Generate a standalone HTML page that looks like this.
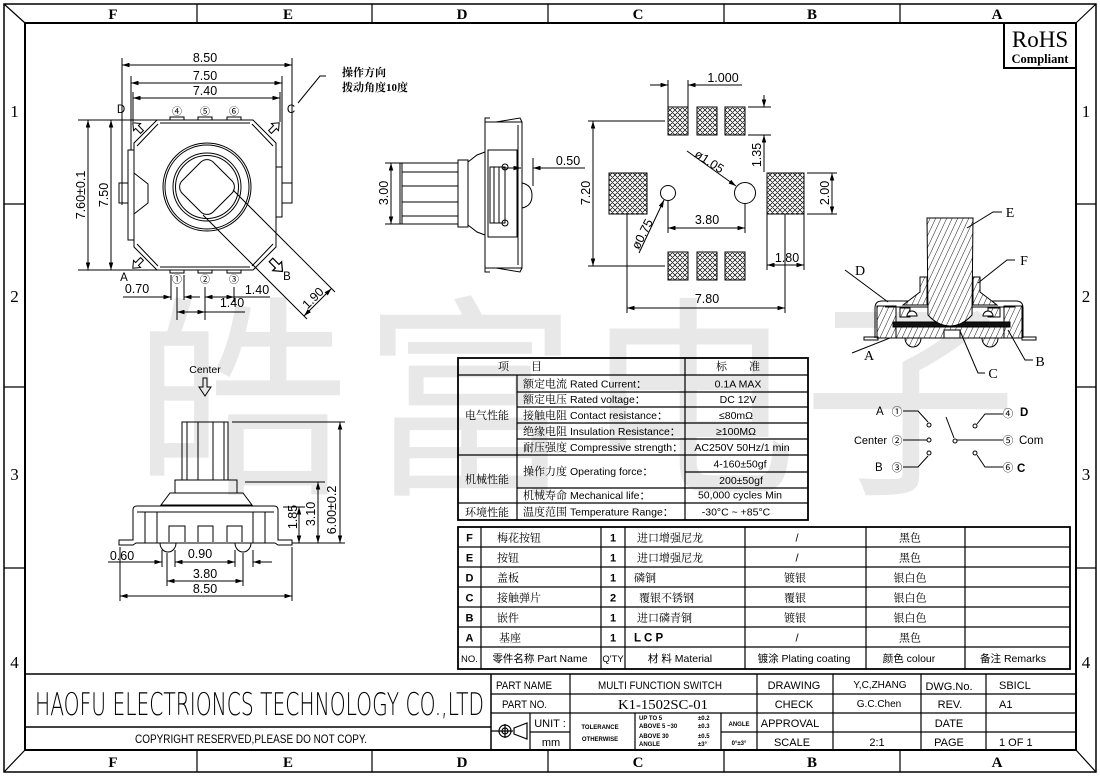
<!DOCTYPE html>
<html><head><meta charset="utf-8">
<style>
html,body{margin:0;padding:0;background:#fff;width:1100px;height:777px;overflow:hidden}
svg{display:block}
.d{marker-start:url(#a);marker-end:url(#a)}
.e{marker-end:url(#a)}
.sf{font-family:"Liberation Serif","Noto Serif CJK SC","Noto Sans CJK SC",serif}
.cn{font-family:"Liberation Serif","Noto Serif CJK SC","Noto Sans CJK SC",serif}
</style></head><body>
<svg xmlns="http://www.w3.org/2000/svg" width="1100" height="777" viewBox="0 0 1100 777" font-family="'Liberation Sans','Noto Sans CJK SC',sans-serif">
<defs>
<marker id="a" viewBox="0 0 10 6" refX="10" refY="3" markerWidth="8" markerHeight="4.5" markerUnits="userSpaceOnUse" orient="auto-start-reverse"><path d="M0,0L10,3L0,6z" fill="#000"/></marker>
<pattern id="xh" width="5" height="5" patternUnits="userSpaceOnUse"><path d="M-1,6L6,-1M-1,1L1,-1M4,6L6,4M-1,-1L6,6M-1,4L1,6M4,-1L6,1" stroke="#000" stroke-width="0.7"/></pattern>
<pattern id="hh" width="5" height="5" patternUnits="userSpaceOnUse" patternTransform="rotate(25)"><rect width="5" height="5" fill="#fff"/><line x1="0" y1="0" x2="0" y2="5" stroke="#000" stroke-width="0.9"/></pattern>
</defs>
<rect width="1100" height="777" fill="#fff"/>

<!-- watermark -->
<g fill="#e8e8e8" font-family="'Noto Sans CJK SC','WenQuanYi Zen Hei',sans-serif" font-size="215" text-anchor="middle">
<text x="241" y="478">皓</text>
<text x="470" y="478">富</text>
<text x="690" y="478">电</text>
<text x="910" y="478">子</text>
</g>

<!-- frame -->
<g fill="none" stroke="#000">
<rect x="4" y="4" width="1092" height="768" stroke-width="1.5"/>
<rect x="25" y="23" width="1051" height="727" stroke-width="2"/>
<path d="M4,4L25,23M1096,4L1076,23M4,772L25,750M1096,772L1076,750" stroke-width="1.2"/>
<path d="M197,4V23M372,4V23M548,4V23M724,4V23M900,4V23M197,750V772M372,750V772M548,750V772M724,750V772M900,750V772M4,204H25M4,387H25M4,568H25M1076,204H1096M1076,387H1096M1076,568H1096" stroke-width="1.2"/>
</g>
<g class="sf" font-size="15" font-weight="bold" text-anchor="middle" fill="#000">
<text x="113" y="19">F</text><text x="288" y="19">E</text><text x="462" y="19">D</text><text x="638" y="19">C</text><text x="812" y="19">B</text><text x="997" y="19">A</text>
<text x="113" y="767">F</text><text x="288" y="767">E</text><text x="462" y="767">D</text><text x="638" y="767">C</text><text x="812" y="767">B</text><text x="997" y="767">A</text>
</g>
<g class="sf" font-size="17" text-anchor="middle" fill="#000">
<text x="14.5" y="117">1</text><text x="14.5" y="302">2</text><text x="14.5" y="480">3</text><text x="14.5" y="668">4</text>
<text x="1086" y="117">1</text><text x="1086" y="302">2</text><text x="1086" y="480">3</text><text x="1086" y="668">4</text>
</g>

<!-- RoHS -->
<path d="M1004,23V68H1076" fill="none" stroke="#000" stroke-width="2"/>
<text class="sf" x="1040" y="47" font-size="23" text-anchor="middle">RoHS</text>
<text class="sf" x="1040" y="63" font-size="12.5" font-weight="bold" text-anchor="middle">Compliant</text>

<!-- ===== TOP VIEW ===== -->
<g fill="none" stroke="#000" stroke-width="1">
<path d="M122,58V205M292,58V203M131,76V150M282,76V167M133,92V122M280,92V122"/>
<line class="d" x1="122" y1="65" x2="292" y2="65"/>
<line class="d" x1="131" y1="83" x2="282" y2="83"/>
<line class="d" x1="133" y1="98" x2="280" y2="98"/>
<path d="M78,120H157M78,270H157"/>
<line class="d" x1="88" y1="120" x2="88" y2="270"/>
<line class="d" x1="111" y1="120" x2="111" y2="270"/>
<path d="M157,120H253L276,143V247L253,270H157L134,247V143Z"/>
<path d="M160,123H250M160,267H250M137,146L158,124M273,146L252,124M137,244L158,266M273,244L252,266"/>
<rect x="128" y="150" width="6" height="90"/>
<rect x="119" y="183" width="9" height="20"/>
<path d="M134,173L148,184V203L134,214"/>
<rect x="276" y="167" width="6" height="50"/>
<rect x="282" y="183" width="10" height="20"/>
<rect x="170" y="117" width="14" height="3"/><rect x="198" y="117" width="14" height="3"/><rect x="227" y="117" width="14" height="3"/>
<rect x="170" y="270" width="14" height="3"/><rect x="198" y="270" width="14" height="3"/><rect x="227" y="270" width="14" height="3"/>
<circle cx="207" cy="187" r="44"/><circle cx="207" cy="187" r="42"/>
<circle cx="207" cy="187" r="34"/><circle cx="207" cy="187" r="31.5"/>
<rect x="185" y="165" width="44" height="44" rx="9" transform="rotate(45 207 187)"/>
<g transform="translate(142,132) rotate(-135)"><path d="M0,-2H7V-5L13,0L7,5V2H0Z"/></g>
<g transform="translate(270,132) rotate(-45)"><path d="M0,-2H7V-5L13,0L7,5V2H0Z"/></g>
<g transform="translate(142,259) rotate(135)"><path d="M0,-2H7V-5L13,0L7,5V2H0Z"/></g>
<g transform="translate(271,260) rotate(45) scale(1.25)"><path d="M0,-2H7V-5L13,0L7,5V2H0Z"/></g>
<path d="M233,190L335,292M203,215L307,319"/>
<line class="d" x1="304" y1="316" x2="331.5" y2="288.5"/>
<path d="M171,275V300M184,275V300M177,287V320M205,287V320M234,287V302"/>
<line class="e" x1="123" y1="297" x2="171" y2="297"/>
<line class="e" x1="200" y1="297" x2="184" y2="297"/>
<line class="d" x1="205" y1="297" x2="234" y2="297"/>
<path d="M234,297H270"/>
<line class="d" x1="177" y1="312" x2="205" y2="312"/>
<path d="M205,312H245"/>
<path d="M326,76H320L298,103"/>
</g>
<g font-size="12.5" text-anchor="middle" fill="#000">
<text x="205" y="62">8.50</text>
<text x="205" y="80">7.50</text>
<text x="205" y="95">7.40</text>
<text transform="translate(85,195) rotate(-90)">7.60±0.1</text>
<text transform="translate(108,195) rotate(-90)">7.50</text>
<text x="137" y="293">0.70</text>
<text x="257" y="294">1.40</text>
<text x="232" y="307">1.40</text>
<text transform="translate(316,301) rotate(-45)">1.90</text>
</g>
<g font-size="11.5" text-anchor="middle" fill="#000">
<text x="121" y="113">D</text><text x="291" y="113">C</text><text x="124" y="281">A</text><text x="287" y="280">B</text>
</g>
<g font-size="10" text-anchor="middle" fill="#000" font-family="'Noto Sans CJK SC',sans-serif">
<text x="177" y="115">④</text><text x="205" y="115">⑤</text><text x="234" y="115">⑥</text>
<text x="177" y="283">①</text><text x="205" y="283">②</text><text x="234" y="283">③</text>
</g>
<g class="cn" font-size="11" font-weight="bold" fill="#000">
<text x="342" y="76">操作方向</text>
<text x="342" y="91">拨动角度10度</text>
</g>

<!-- ===== SIDE VIEW ===== -->
<g fill="none" stroke="#000" stroke-width="1">
<path d="M385,163H400M385,224H400"/>
<line class="d" x1="391" y1="163" x2="391" y2="224"/>
<rect x="400" y="163" width="58" height="61"/>
<path d="M402,163V224M402,172H458M402,186H458M402,202H458M402,216H458"/>
<rect x="458" y="160" width="10" height="67"/>
<path d="M468,162L477,155L485,152M468,225L477,232L485,235"/>
<rect x="485" y="122" width="37" height="146"/>
<path d="M518,125V265"/>
<path d="M485,124V118H490M489,122H496L520,118L522,122M485,266V272H490M489,268H496L520,272L522,268"/>
<rect x="488" y="150" width="29" height="87"/>
<rect x="490" y="167" width="15" height="56"/>
<path d="M494,167V223M499,167V223"/>
<circle cx="505" cy="167" r="3"/><circle cx="505" cy="223" r="3"/>
<path d="M522,183Q532,185 532,195.5Q532,206 522,208"/>
<path d="M522,185V206" />
<path d="M533,158V186"/>
<line class="e" x1="585" y1="168" x2="533" y2="168"/>
<line class="e" x1="503" y1="168" x2="521" y2="168"/>
</g>
<g font-size="12.5" text-anchor="middle" fill="#000">
<text transform="translate(388,193) rotate(-90)">3.00</text>
<text x="568" y="165">0.50</text>
</g>

<!-- ===== PAD LAYOUT ===== -->
<g stroke="#000" stroke-width="1">
<g fill="url(#xh)">
<rect x="668" y="107" width="20" height="28"/><rect x="697" y="107" width="20" height="28"/><rect x="725" y="107" width="20" height="28"/>
<rect x="668" y="252" width="20" height="28"/><rect x="697" y="252" width="20" height="28"/><rect x="725" y="252" width="20" height="28"/>
<rect x="609" y="173" width="38" height="41"/><rect x="767" y="173" width="37" height="41"/>
</g>
<g fill="none">
<circle cx="668" cy="193" r="7.5"/><circle cx="745" cy="193" r="10.5"/>
<path d="M668,80V107M688,80V107"/>
<line class="e" x1="650" y1="85" x2="668" y2="85"/>
<line class="e" x1="742" y1="85" x2="688" y2="85"/>
<path d="M588,121H665M588,266H665"/>
<line class="d" x1="593" y1="121" x2="593" y2="266"/>
<path d="M748,107H771M748,135H771"/>
<line class="e" x1="764" y1="95" x2="764" y2="107"/>
<line class="e" x1="764" y1="172" x2="764" y2="135"/>
<path d="M807,173H837M807,214H837"/>
<line class="d" x1="832" y1="173" x2="832" y2="214"/>
<line class="e" x1="687" y1="151" x2="736" y2="186"/>
<line class="e" x1="639" y1="253" x2="664" y2="200"/>
<path d="M668,201V233M745,204V233"/>
<line class="d" x1="668" y1="228" x2="745" y2="228"/>
<path d="M767,214V270M804,214V270M627,214V313M785,214V313"/>
<line class="d" x1="767" y1="265" x2="804" y2="265"/>
<line class="d" x1="627" y1="308" x2="785" y2="308"/>
</g>
</g>
<g font-size="12.5" text-anchor="middle" fill="#000">
<text x="723" y="82">1.000</text>
<text transform="translate(590,193) rotate(-90)">7.20</text>
<text transform="translate(761,155) rotate(-90)">1.35</text>
<text transform="translate(829,193) rotate(-90)">2.00</text>
<text transform="translate(707,165) rotate(33)">ø1.05</text>
<text transform="translate(646,236) rotate(-63)">ø0.75</text>
<text x="707" y="224">3.80</text>
<text x="787" y="262">1.80</text>
<text x="707" y="303">7.80</text>
</g>

<!-- ===== CROSS SECTION ===== -->
<g stroke="#000" stroke-width="1">
<rect x="877" y="306" width="19" height="32" fill="url(#hh)"/>
<rect x="1004" y="306" width="18" height="32" fill="url(#hh)"/>
<rect x="896" y="327" width="108" height="11" fill="url(#hh)"/>
<rect x="944" y="330" width="16" height="8" fill="#fff"/>
<rect x="893" y="322" width="117" height="5" fill="#111"/>
<path d="M905,338a8,9 0 0 0 16,0Z" fill="url(#hh)"/>
<path d="M982,338a8,9 0 0 0 16,0Z" fill="url(#hh)"/>
<rect x="864" y="337" width="14" height="3" fill="none"/>
<rect x="1022" y="337" width="14" height="3" fill="none"/>
<path d="M875,338V308Q875,301 882,301H1016Q1023,301 1023,308V338" fill="none"/>
<path d="M885,307H1015" fill="none"/>
<rect x="900" y="308" width="10" height="9" fill="url(#hh)"/>
<rect x="988" y="308" width="12" height="9" fill="url(#hh)"/>
<path d="M920,277H927V305H903L920,292Z" fill="url(#hh)"/>
<path d="M980,277H973V305H997L980,292Z" fill="url(#hh)"/>
<path d="M927,218H973L972,315Q962,326 950,326Q938,326 928,315Z" fill="url(#hh)"/>
<path d="M907,316a5,5 0 0 1 10,0Z" fill="#fff"/>
<path d="M983,316a5,5 0 0 1 10,0Z" fill="#fff"/>
<g fill="none">
<path d="M1002,212H993L967,228"/>
<path d="M1015,260H1007L978,283"/>
<path d="M845,270L888,302"/>
<path d="M852,353L890,338"/>
<path d="M1033,360H1025L1008,330"/>
<path d="M985,373H978L960,331"/>
</g>
</g>
<g class="sf" font-size="14" text-anchor="middle" fill="#000">
<text x="1010" y="217">E</text><text x="1024" y="265">F</text><text x="860" y="275">D</text>
<text x="869" y="360">A</text><text x="1040" y="366">B</text><text x="993" y="378">C</text>
</g>

<!-- ===== SCHEMATIC ===== -->
<g fill="none" stroke="#000" stroke-width="1">
<path d="M903,411H918L928,422"/><circle cx="929" cy="425" r="2"/>
<path d="M903,440H927"/><circle cx="929" cy="440" r="2"/>
<path d="M903,467H918L928,456"/><circle cx="929" cy="453" r="2"/>
<path d="M946,417L954,438"/><circle cx="955" cy="441" r="2"/>
<path d="M957,440H1003"/>
<circle cx="975" cy="426" r="2"/><path d="M977,424L985,414H1003"/>
<circle cx="975" cy="453" r="2"/><path d="M977,455L985,467H1003"/>
</g>
<g font-size="11.5" fill="#000">
<text x="876" y="415">A</text>
<text x="887" y="444" text-anchor="end" font-size="11">Center</text>
<text x="875" y="471">B</text>
<text x="1020" y="416" font-weight="bold">D</text>
<text x="1019" y="444">Com</text>
<text x="1017" y="472" font-weight="bold">C</text>
</g>
<g font-size="10.5" text-anchor="middle" fill="#000" font-family="'Noto Sans CJK SC',sans-serif">
<text x="897" y="415">①</text><text x="897" y="444">②</text><text x="897" y="471">③</text>
<text x="1008" y="417">④</text><text x="1008" y="444">⑤</text><text x="1008" y="471">⑥</text>
</g>

<!-- ===== FRONT VIEW (bottom left) ===== -->
<text x="205" y="373" font-size="10.5" text-anchor="middle">Center</text>
<g fill="none" stroke="#000" stroke-width="1">
<path d="M203,378H207V387H211L205,396L199,387H203Z"/>
<rect x="182" y="422" width="46" height="58"/>
<path d="M187,422V480M198,422V480M213,422V480M224,422V480"/>
<rect x="175" y="480" width="62" height="13"/>
<path d="M170,493H243L252,505H161Z"/>
<path d="M119,540H133V510Q133,506 137,506H274Q278,506 278,510V540H292V545H278L275,543H136L133,545H119Z"/>
<rect x="157" y="512" width="96" height="31"/>
<path d="M137,512H157M253,512H274M145,512V543M265,512V543"/>
<path d="M169,542V526H185V542M198,542V526H213V542M227,542V526H242V542"/>
<path d="M160,543a8,9 0 0 0 16,0M235,543a8,9 0 0 0 16,0"/>
<path d="M232,422H345M245,482H325M283,507H305M292,543H345"/>
<line class="d" x1="340" y1="422" x2="340" y2="543"/>
<line class="d" x1="318" y1="482" x2="318" y2="543"/>
<line class="d" x1="299" y1="507" x2="299" y2="543"/>
<path d="M162,550V567M175,550V567M235,550V567M253,550V567M167,553V586M243,553V586M120,547V601M292,547V601"/>
<line class="e" x1="108" y1="562" x2="162" y2="562"/>
<line class="d" x1="175" y1="562" x2="235" y2="562"/>
<line class="e" x1="272" y1="562" x2="253" y2="562"/>
<line class="d" x1="167" y1="581" x2="243" y2="581"/>
<line class="d" x1="120" y1="596" x2="292" y2="596"/>
</g>
<g font-size="12.5" text-anchor="middle" fill="#000">
<text transform="translate(336,510) rotate(-90)">6.00±0.2</text>
<text transform="translate(315,514) rotate(-90)">3.10</text>
<text transform="translate(297,517) rotate(-90)">1.85</text>
<text x="122" y="560">0.60</text>
<text x="200" y="558">0.90</text>
<text x="205" y="578">3.80</text>
<text x="205" y="593">8.50</text>
</g>

<!-- ===== SPEC TABLE ===== -->
<g fill="none" stroke="#000">
<rect x="458" y="358" width="350" height="162" stroke-width="1.8"/>
<path d="M458,375H808M685,358V520M517,375V520M517,392H808M517,407H808M517,423H808M517,439H808M458,455H808M685,472H808M517,488H808M458,503H808" stroke-width="1.2"/>
</g>
<g class="cn" font-size="11" fill="#000">
<text x="520" y="370" text-anchor="middle">项　　目</text>
<text x="738" y="370" text-anchor="middle">标　　准</text>
<text x="487" y="419" text-anchor="middle">电气性能</text>
<text x="487" y="483" text-anchor="middle">机械性能</text>
<text x="487" y="516" text-anchor="middle">环境性能</text>
<text x="523" y="387.5">额定电流</text>
<text x="523" y="403">额定电压</text>
<text x="523" y="419">接触电阻</text>
<text x="523" y="435">绝缘电阻</text>
<text x="523" y="451">耐压强度</text>
<text x="523" y="475">操作力度</text>
<text x="523" y="499">机械寿命</text>
<text x="523" y="515.5">温度范围</text>
</g>
<g font-size="10.5" fill="#000">
<text x="570" y="387.5">Rated Current：</text>
<text x="570" y="403">Rated voltage：</text>
<text x="570" y="419">Contact resistance：</text>
<text x="570" y="435">Insulation Resistance：</text>
<text x="570" y="451">Compressive strength：</text>
<text x="570" y="475">Operating force：</text>
<text x="570" y="499">Mechanical life：</text>
<text x="570" y="515.5">Temperature Range：</text>
</g>
<g font-size="10.5" fill="#000" text-anchor="middle">
<text x="738" y="387.5">0.1A MAX</text>
<text x="738" y="403">DC 12V</text>
<text x="736" y="419">≤80mΩ</text>
<text x="736" y="435">≥100MΩ</text>
<text x="742" y="451">AC250V  50Hz/1 min</text>
<text x="740" y="467.5">4-160±50gf</text>
<text x="741" y="484">200±50gf</text>
<text x="740" y="498.5">50,000 cycles Min</text>
<text x="736" y="515.5">-30°C ~ +85°C</text>
</g>

<!-- ===== PARTS TABLE ===== -->
<g fill="none" stroke="#000">
<rect x="458" y="527" width="612" height="142" stroke-width="1.8"/>
<path d="M458,547H1070M458,567H1070M458,587H1070M458,607H1070M458,627H1070M458,647H1070M481,527V669M601,527V669M625,527V669M745,527V669M866,527V669M965,527V669" stroke-width="1.2"/>
</g>
<g font-size="11" font-weight="bold" fill="#000" text-anchor="middle">
<text x="469.5" y="541.5">F</text><text x="469.5" y="561.5">E</text><text x="469.5" y="581.5">D</text>
<text x="469.5" y="601.5">C</text><text x="469.5" y="621.5">B</text><text x="469.5" y="641.5">A</text>
<text x="613" y="541.5">1</text><text x="613" y="561.5">1</text><text x="613" y="581.5">1</text>
<text x="613" y="601.5">2</text><text x="613" y="621.5">1</text><text x="613" y="641.5">1</text>
<text x="797" y="541.5" font-weight="normal">/</text><text x="797" y="561.5" font-weight="normal">/</text><text x="797" y="641.5" font-weight="normal">/</text>
</g>
<text x="634" y="641.5" font-size="11.5" font-weight="bold">L C P</text>
<g class="cn" font-size="11" fill="#000">
<text x="497" y="541.5">梅花按钮</text><text x="497" y="561.5">按钮</text><text x="497" y="581.5">盖板</text>
<text x="497" y="601.5">接触弹片</text><text x="497" y="621.5">嵌件</text><text x="499" y="641.5">基座</text>
<text x="637" y="541.5">进口增强尼龙</text><text x="637" y="561.5">进口增强尼龙</text><text x="634" y="581.5">磷铜</text>
<text x="639" y="601.5">覆银不锈钢</text><text x="637" y="621.5">进口磷青铜</text>
<g text-anchor="middle">
<text x="795" y="581.5">镀银</text><text x="795" y="601.5">覆银</text><text x="795" y="621.5">镀银</text>
<text x="910" y="541.5">黑色</text><text x="910" y="561.5">黑色</text><text x="910" y="581.5">银白色</text>
<text x="910" y="601.5">银白色</text><text x="910" y="621.5">银白色</text><text x="910" y="641.5">黑色</text>
</g>
</g>
<g font-size="10.5" fill="#000" text-anchor="middle">
<text x="469.5" y="662" font-size="9.5">NO.</text>
<text x="540" y="662">零件名称  Part Name</text>
<text x="613" y="662" font-size="9.5">Q'TY</text>
<text x="680" y="662">材 料  Material</text>
<text x="804" y="662">镀涂  Plating coating</text>
<text x="909" y="662">颜色    colour</text>
<text x="1013" y="662">备注  Remarks</text>
</g>

<!-- ===== TITLE BLOCK ===== -->
<g fill="none" stroke="#000" stroke-width="1.2">
<path d="M25,674H1076M25,727H491M491,674V750" stroke-width="1.5"/>
<path d="M491,694H1076M491,713H1076M530,732H570M721,732H1076M570,674V750M530,713V750M635,713V750M721,713V750M757,674V750M833,674V750M921,674V750M986,674V750"/>
<path d="M491,731H499M499,731H513M505,724V738"/>
<circle cx="505" cy="731" r="6"/><circle cx="505" cy="731" r="3"/>
<path d="M514,728L527,723V739L514,734Z"/>
</g>
<text x="35" y="715" font-size="31" font-family="'DejaVu Sans','Liberation Sans',sans-serif" font-weight="200" textLength="449" lengthAdjust="spacingAndGlyphs">HAOFU ELECTRIONCS TECHNOLOGY CO.,LTD</text>
<text x="135" y="743" font-size="12" textLength="232" lengthAdjust="spacingAndGlyphs">COPYRIGHT RESERVED,PLEASE DO NOT COPY.</text>
<g font-size="11" fill="#000">
<text x="496" y="689" textLength="56" lengthAdjust="spacingAndGlyphs">PART NAME</text>
<text x="502" y="708" textLength="45" lengthAdjust="spacingAndGlyphs">PART NO.</text>
<text x="598" y="689" textLength="124" lengthAdjust="spacingAndGlyphs">MULTI FUNCTION SWITCH</text>
<text x="999" y="689">SBICL</text>
<text x="999" y="708">A1</text>
<text x="999" y="746">1 OF 1</text>
<g text-anchor="middle">
<text x="794" y="689">DRAWING</text>
<text x="880" y="688" font-size="10">Y,C,ZHANG</text>
<text x="949" y="690">DWG.No.</text>
<text x="794" y="708">CHECK</text>
<text x="879" y="707" font-size="10">G.C.Chen</text>
<text x="950" y="708">REV.</text>
<text x="550" y="727">UNIT :</text>
<text x="551" y="746">mm</text>
<text x="790" y="727">APPROVAL</text>
<text x="949" y="727">DATE</text>
<text x="792" y="746">SCALE</text>
<text x="877" y="746">2:1</text>
<text x="949" y="746">PAGE</text>
</g>
</g>
<text class="sf" x="618" y="709" font-size="14" textLength="90" lengthAdjust="spacingAndGlyphs">K1-1502SC-01</text>
<g font-size="6" fill="#000" font-weight="bold">
<text x="600" y="729" text-anchor="middle">TOLERANCE</text>
<text x="600" y="741" text-anchor="middle">OTHERWISE</text>
<text x="639" y="720">UP TO 5</text><text x="698" y="720">±0.2</text>
<text x="639" y="728">ABOVE 5 ~30</text><text x="698" y="728">±0.3</text>
<text x="639" y="738">ABOVE 30</text><text x="698" y="738">±0.5</text>
<text x="639" y="746">ANGLE</text><text x="698" y="746">±3°</text>
<text x="739" y="726" text-anchor="middle">ANGLE</text>
<text x="739" y="745" text-anchor="middle">0°±3°</text>
</g>
</svg>
</body></html>
